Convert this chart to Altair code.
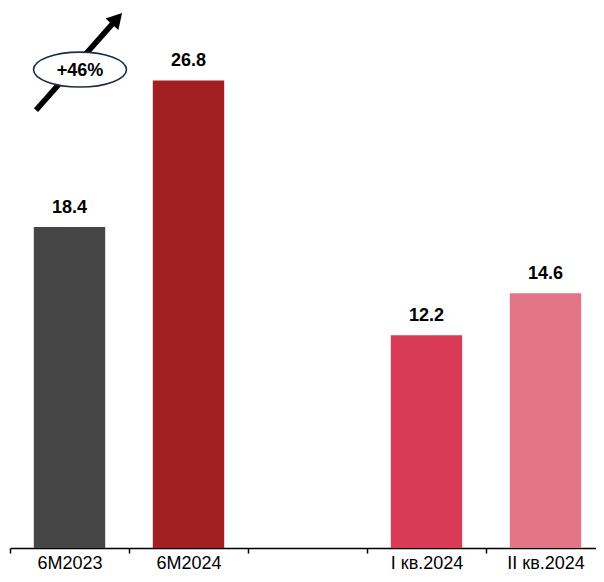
import altair as alt
import pandas as pd

# Data
categories = ["6M2023", "6M2024", "I кв.2024", "II кв.2024"]
values = [18.4, 26.8, 12.2, 14.6]
value_labels = ["18.4", "26.8", "12.2", "14.6"]
bar_colors = ["#464646", "#A21F22", "#D93A56", "#E47586"]
axis_order = ["6M2023", "6M2024", " ", "I кв.2024", "II кв.2024"]

growth_label = ["+46%"]

df = pd.DataFrame({"cat": categories, "value": values,
                   "label": value_labels, "color": bar_colors})

FONT = "Liberation Sans"
Y_MAX = 30.95

x_enc = alt.X(
    "cat:N",
    scale=alt.Scale(domain=axis_order, paddingInner=0, paddingOuter=0,
                    range=[0, 595]),
    axis=alt.Axis(title=None, labelAngle=0, tickBand="extent",
                  domainColor="#000000", tickColor="#000000",
                  domainWidth=1.5, tickWidth=1.5, tickSize=5,
                  labelFont=FONT, labelFontSize=18, labelColor="#000000",
                  labelPadding=1),
)
y_enc = alt.Y("value:Q", scale=alt.Scale(domain=[0, Y_MAX], nice=False),
              axis=None)

bars = alt.Chart(df).mark_bar(width=alt.RelativeBandSize(0.6)).encode(
    x=x_enc, y=y_enc, color=alt.Color("color:N", scale=None)
)

texts = alt.Chart(df).mark_text(
    dy=-14, baseline="alphabetic", fontWeight="bold", fontSize=18,
    font=FONT, color="#000000"
).encode(x=x_enc, y=y_enc, text="label:N")

# Annotation: growth arrow with ellipse
arrow_df = pd.DataFrame({"cat": ["6M2023"], "cat2": ["6M2024"],
                         "y": [25.1], "y2": [30.14]})
arrow_line = alt.Chart(arrow_df).mark_rule(
    strokeWidth=5.5, color="#000000", xOffset=-33.5, x2Offset=-74.5
).encode(x=alt.X("cat:N"), x2="cat2:N", y=alt.Y("y:Q"), y2="y2:Q")

head_df = pd.DataFrame({"cat": ["6M2024"], "y": [30.34]})
arrow_head = alt.Chart(head_df).mark_point(
    shape="triangle-up", angle=42, filled=True, size=300,
    color="#000000", opacity=1, xOffset=-71.5
).encode(x="cat:N", y="y:Q")

ell_df = pd.DataFrame({"cat": ["6M2023"], "y": [27.42], "ty": [27.35],
                       "label": growth_label})
ellipse = alt.Chart(ell_df).mark_point(
    shape="M-1,0 A1,0.376 0 1,0 1,0 A1,0.376 0 1,0 -1,0",
    size=8649, filled=False, fill="#ffffff", fillOpacity=1,
    stroke="#1F2A44", strokeWidth=1.6, opacity=1, xOffset=10.5
).encode(x="cat:N", y="y:Q")
ell_text = alt.Chart(ell_df).mark_text(
    fontWeight="bold", fontSize=18, font=FONT, color="#000000",
    xOffset=10.5, baseline="middle"
).encode(x="cat:N", y="ty:Q", text="label:N")

chart = alt.layer(bars, texts, arrow_line, arrow_head, ellipse, ell_text).properties(
    width=586, height=540,
    padding={"left": 2, "right": 0, "top": 0, "bottom": 25},
    autosize=alt.AutoSizeParams(type="none"),
).configure_view(stroke=None)

chart.save("out.html", embed_options={"renderer": "svg", "actions": False})
